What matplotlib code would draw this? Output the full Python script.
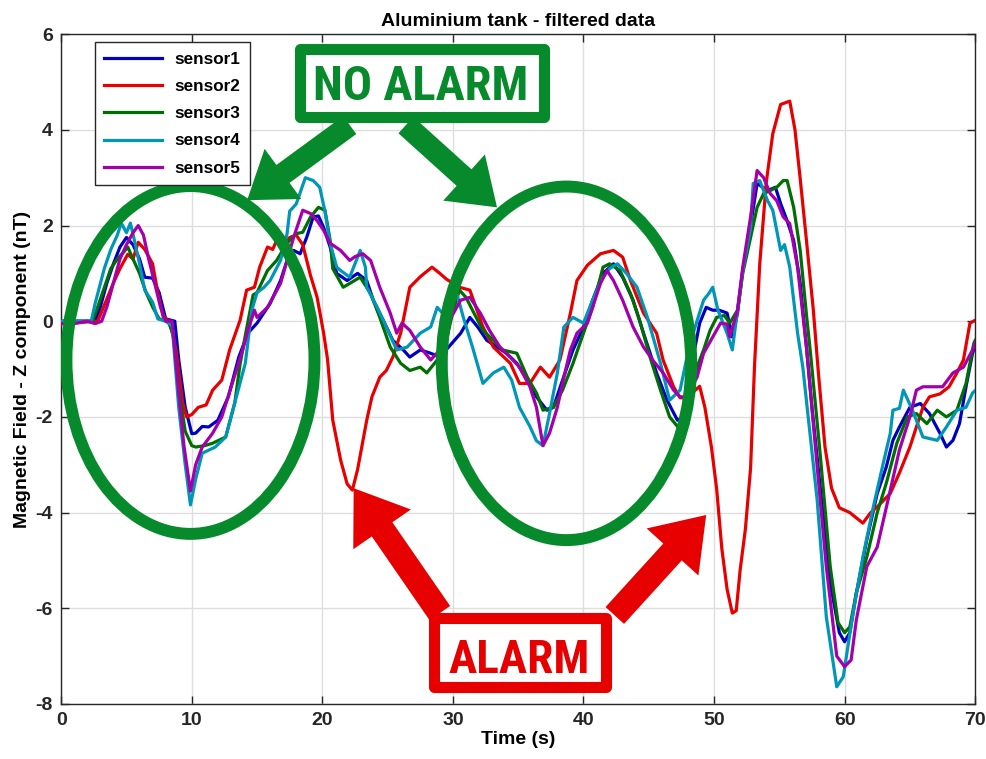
import matplotlib
matplotlib.use("Agg")
import matplotlib.pyplot as plt
import numpy as np
from matplotlib import font_manager
from matplotlib.patches import Ellipse, Rectangle

plt.rcParams['font.family'] = ['Liberation Sans', 'DejaVu Sans']
plt.rcParams['axes.unicode_minus'] = False

# sensor readings, (time s, field nT)
sensor1 = [(0, 0), (2.6, 0), (3.0, 0.3), (3.5, 0.8), (4.0, 1.2), (4.5, 1.55), (5.0, 1.75),
           (5.5, 1.6), (6.0, 1.3), (6.4, 0.92), (7.0, 0.9), (7.5, 0.6), (8.0, 0.05), (8.7, 0),
           (9.0, -0.8), (9.5, -1.8), (10.0, -2.35), (10.3, -2.34), (10.8, -2.2), (11.3, -2.21),
           (12.0, -2.07), (12.8, -1.58), (13.6, -0.75), (14.3, -0.25), (15.0, -0.04), (16.0, 0.37),
           (16.8, 0.85), (17.3, 1.27), (17.8, 1.48), (18.3, 1.41), (18.8, 1.75), (19.3, 2.18),
           (19.7, 2.2), (20.1, 1.96), (20.6, 1.55), (21.1, 1.0), (21.9, 0.85), (22.7, 1.0),
           (23.4, 0.85), (23.9, 0.44), (24.7, 0.0), (25.4, -0.4), (26.2, -0.6), (26.7, -0.75),
           (27.5, -0.6), (28.3, -0.67), (29.0, -0.75), (29.8, -0.5), (30.6, -0.25), (31.3, 0.08),
           (31.9, -0.12), (32.6, -0.4), (33.4, -0.54), (34.1, -0.67), (34.9, -0.88), (35.7, -1.23),
           (36.4, -1.58), (37.2, -1.86), (37.7, -1.8), (38.4, -1.23), (39.2, -0.6), (40.0, -0.12),
           (40.7, 0.44), (41.5, 1.0), (42.3, 1.2), (43.0, 0.92), (43.8, 0.44), (44.6, -0.25),
           (45.6, -1.08), (46.4, -1.65), (47.2, -2.07), (47.6, -2.0), (48.4, -0.75), (48.9, -0.04),
           (49.4, 0.29), (49.9, 0.23), (50.4, 0.23), (51.0, 0.17), (51.4, -0.33), (51.8, 0.17),
           (52.2, 1.06), (52.8, 2.0), (53.3, 2.88), (54.1, 2.73), (54.7, 2.8), (55.1, 2.46),
           (55.6, 2.1), (56.1, 1.69), (56.6, 0.79), (57.1, -0.6), (57.5, -1.8), (58.1, -3.38),
           (58.9, -5.47), (59.6, -6.51), (60.0, -6.7), (60.4, -6.51), (60.9, -5.68), (61.7, -4.57),
           (62.5, -3.6), (63.2, -3.04), (63.7, -2.49), (64.2, -2.21), (65.0, -1.8), (65.8, -1.72),
           (66.5, -1.93), (67.3, -2.34), (67.8, -2.63), (68.3, -2.49), (68.8, -2.14), (69.3, -1.37),
           (69.8, -0.67), (70, -0.5)]

sensor2 = [(0, -0.05), (2.8, 0), (3.4, 0.4), (4.0, 0.8), (4.5, 1.1), (5.1, 1.4), (5.5, 1.3),
           (5.9, 1.65), (6.4, 1.5), (7.0, 1.2), (7.4, 0.6), (7.8, 0.1), (8.3, 0), (8.8, -0.6),
           (9.3, -1.7), (9.6, -2.0), (10.0, -1.95), (10.5, -1.8), (11.1, -1.75), (11.6, -1.44),
           (12.3, -1.23), (12.9, -0.6), (13.7, 0.02), (14.2, 0.65), (14.8, 0.71), (15.2, 1.13),
           (15.8, 1.55), (16.2, 1.5), (16.5, 1.69), (17.1, 1.63), (17.5, 1.75), (18.0, 1.8),
           (18.5, 1.6), (19.1, 0.95), (19.6, 0.5), (20.1, -0.25), (20.4, -0.8), (20.8, -2.07),
           (21.4, -2.9), (21.9, -3.4), (22.3, -3.53), (22.7, -3.1), (23.4, -2.07), (23.8, -1.58),
           (24.4, -1.17), (24.9, -1.03), (25.4, -0.75), (26.0, -0.25), (26.7, 0.71), (27.5, 0.93),
           (28.4, 1.13), (29.0, 1.0), (29.5, 0.88), (30.5, 0.71), (31.3, 0.65), (32.3, -0.12),
           (33.1, -0.54), (34.4, -0.88), (35.1, -1.3), (35.9, -1.3), (36.7, -0.96), (37.4, -1.17),
           (38.2, -0.81), (39.0, 0.17), (39.5, 0.85), (40.3, 1.17), (41.3, 1.41), (42.3, 1.48),
           (43.0, 1.34), (43.6, 0.85), (44.6, 0.17), (45.6, -0.25), (46.1, -0.81), (46.9, -1.37),
           (47.4, -1.6), (47.9, -1.6), (48.9, -1.36), (49.3, -1.8), (49.8, -2.63), (50.2, -3.5),
           (50.6, -4.76), (51.0, -5.6), (51.4, -6.1), (51.7, -6.05), (52.0, -5.2), (52.4, -4.35),
           (52.8, -3.07), (53.1, -0.94), (53.5, 1.19), (54.0, 2.9), (54.5, 3.92), (55.1, 4.53),
           (55.8, 4.6), (56.2, 4.0), (56.6, 2.98), (57.1, 1.63), (57.6, 0.25), (58.0, -1.1),
           (58.5, -2.63), (59.0, -3.49), (59.6, -3.9), (60.4, -4.0), (61.4, -4.22), (62.0, -4.0),
           (62.5, -3.88), (63.5, -3.6), (64.2, -3.17), (65.0, -2.63), (65.5, -2.21), (66.0, -1.8),
           (66.5, -1.58), (67.3, -1.52), (68.0, -1.37), (68.6, -1.08), (69.1, -0.81), (69.6, -0.04),
           (70, 0.02)]

sensor3 = [(0, 0), (2.4, 0), (2.8, 0.3), (3.3, 0.7), (3.8, 1.1), (4.3, 1.3), (4.8, 1.45),
           (5.1, 1.55), (5.5, 1.3), (6.0, 1.0), (6.5, 0.6), (7.0, 0.3), (7.5, 0.05), (8.2, 0),
           (8.6, -0.3), (9.0, -1.4), (9.5, -2.3), (10.0, -2.6), (10.3, -2.63), (11.0, -2.6),
           (11.6, -2.55), (12.6, -2.42), (13.3, -1.7), (13.7, -0.9), (14.1, -0.3), (14.7, 0.55),
           (15.0, 0.6), (15.8, 1.06), (16.5, 1.27), (17.3, 1.63), (18.0, 1.83), (18.5, 1.86),
           (19.1, 2.18), (19.7, 2.38), (20.2, 2.32), (20.6, 1.69), (20.8, 1.1), (21.6, 0.71),
           (22.1, 0.79), (22.9, 0.92), (23.7, 0.58), (24.4, 0.08), (25.2, -0.54), (26.0, -0.88),
           (26.7, -1.03), (27.5, -0.96), (28.0, -1.08), (28.8, -0.81), (29.5, -0.4), (30.0, 0.2),
           (30.5, 0.65), (31.0, 0.5), (31.5, 0.23), (32.3, -0.19), (33.1, -0.4), (33.8, -0.6),
           (34.9, -0.67), (35.7, -1.17), (36.4, -1.5), (36.9, -1.86), (37.7, -1.8), (38.4, -1.44),
           (39.2, -0.88), (40.0, -0.25), (40.7, 0.29), (41.5, 1.13), (42.0, 1.2), (42.8, 1.06),
           (43.6, 0.58), (44.3, 0.02), (45.1, -0.75), (45.9, -1.44), (46.6, -2.0), (47.2, -2.2),
           (47.7, -2.2), (48.0, -1.65), (48.7, -0.96), (49.2, -0.6), (49.7, -0.19), (50.2, 0.08),
           (50.8, 0.12), (51.2, -0.04), (51.8, 0.23), (52.2, 1.0), (52.8, 1.75), (53.3, 2.38),
           (53.8, 2.67), (54.3, 2.73), (54.8, 2.8), (55.3, 2.94), (55.6, 2.94), (56.1, 2.38),
           (56.6, 1.48), (57.1, 0.08), (57.4, -0.7), (58.1, -2.69), (58.9, -5.13), (59.5, -6.3),
           (60.0, -6.51), (60.4, -6.39), (60.9, -5.68), (61.7, -4.93), (62.5, -4.0), (63.2, -3.38),
           (64.0, -2.55), (64.8, -2.0), (65.5, -1.93), (66.3, -2.14), (67.1, -1.86), (67.8, -2.0),
           (68.6, -1.86), (69.3, -1.3), (69.9, -0.46), (70, -0.4)]

sensor4 = [(0, 0), (2.3, 0), (2.6, 0.37), (3.3, 1.1), (3.8, 1.5), (4.3, 1.8), (4.6, 2.05),
           (5.0, 1.85), (5.3, 2.05), (5.6, 1.7), (6.0, 1.2), (6.4, 0.65), (7.0, 0.4), (7.4, 0.05),
           (8.0, 0), (8.5, -0.1), (9.0, -1.8), (9.5, -3.0), (9.9, -3.84), (10.3, -3.3), (10.8, -2.76),
           (11.8, -2.63), (12.6, -2.42), (13.3, -1.7), (14.1, -0.88), (14.6, 0.23), (15.0, 0.6),
           (15.5, 0.7), (16.0, 0.85), (16.8, 1.27), (17.3, 1.83), (17.5, 2.3), (18.0, 2.45),
           (18.7, 3.0), (19.3, 2.94), (19.8, 2.8), (20.2, 2.3), (20.6, 1.63), (21.1, 1.13),
           (21.4, 1.06), (22.1, 0.92), (22.9, 1.48), (23.3, 1.13), (23.4, 0.71), (24.2, 0.29),
           (24.9, -0.12), (25.7, -0.6), (26.5, -0.54), (27.5, -0.25), (28.3, -0.12), (28.8, 0.29),
           (29.5, 0.08), (30.3, 0.58), (30.8, 0.08), (31.5, -0.54), (32.3, -1.3), (33.1, -1.08),
           (33.9, -0.96), (34.5, -1.23), (35.1, -1.8), (35.9, -2.2), (36.4, -2.5), (36.9, -2.6),
           (37.4, -1.93), (38.0, -1.08), (38.5, -0.12), (39.2, 0.08), (40.0, -0.04), (40.7, 0.44),
           (41.5, 0.92), (42.0, 1.1), (42.6, 1.2), (43.3, 1.0), (44.1, 0.71), (44.9, 0.08),
           (45.9, -0.88), (46.6, -1.65), (47.4, -1.44), (48.2, -0.4), (48.4, -0.25), (49.2, 0.44),
           (49.6, 0.58), (49.9, 0.71), (50.3, 0.23), (51.0, -0.25), (51.4, -0.6), (51.8, 0.23),
           (52.2, 1.06), (52.8, 1.96), (53.0, 2.88), (53.5, 2.94), (54.1, 2.52), (54.5, 2.32),
           (55.1, 1.48), (55.4, 1.6), (55.8, 1.13), (56.4, -0.25), (56.8, -0.96), (57.9, -3.74),
           (58.6, -6.18), (59.4, -7.64), (59.9, -7.43), (60.6, -6.18), (61.4, -4.93), (62.2, -3.88),
           (62.9, -3.04), (63.5, -2.34), (63.7, -1.86), (64.2, -1.82), (64.5, -1.44), (65.2, -1.86),
           (66.0, -2.42), (67.1, -2.49), (67.8, -2.21), (68.6, -1.86), (69.3, -1.8), (69.8, -1.5),
           (70, -1.45)]

sensor5 = [(0, -0.05), (1.0, -0.05), (2.0, 0), (2.6, -0.05), (3.1, 0), (3.5, 0.3), (4.0, 0.8),
           (4.5, 1.3), (5.0, 1.6), (5.5, 1.85), (5.9, 2.0), (6.3, 1.8), (6.7, 1.3), (7.2, 0.75),
           (7.6, 0.3), (8.0, 0), (8.5, 0), (9.0, -1.5), (9.4, -2.6), (9.9, -3.55), (10.3, -3.0),
           (10.8, -2.63), (11.6, -2.34), (12.3, -2.0), (13.1, -1.3), (13.9, -0.6), (14.3, -0.19),
           (14.8, 0.23), (15.0, 0.08), (15.8, 0.29), (16.8, 0.79), (17.3, 1.27), (17.8, 1.75),
           (18.5, 2.32), (19.1, 2.25), (19.6, 2.1), (20.1, 1.9), (20.6, 1.63), (21.4, 1.48),
           (22.1, 1.27), (22.5, 1.35), (23.1, 1.41), (23.7, 1.27), (24.4, 0.71), (25.2, 0.17),
           (25.7, -0.25), (26.1, -0.04), (26.7, -0.19), (27.5, -0.54), (28.3, -0.81), (29.0, -0.6),
           (29.8, 0.05), (30.6, 0.44), (31.3, 0.5), (32.1, 0.17), (32.8, -0.19), (33.6, -0.54),
           (34.4, -0.75), (35.1, -0.96), (35.9, -1.37), (36.4, -1.8), (36.9, -2.6), (37.4, -2.34),
           (38.0, -1.8), (38.5, -1.17), (39.0, -0.6), (39.5, -0.25), (40.3, -0.04), (40.7, 0.29),
           (41.3, 0.79), (41.8, 1.06), (42.3, 0.85), (43.0, 0.44), (43.8, -0.12), (44.6, -0.54),
           (45.3, -0.81), (46.1, -1.08), (46.9, -1.44), (47.4, -1.58), (47.9, -1.58), (48.7, -1.17),
           (49.2, -0.67), (49.9, -0.33), (50.5, -0.04), (51.0, -0.06), (51.2, -0.33), (51.8, 0.23),
           (52.2, 1.13), (52.8, 2.18), (53.3, 3.15), (53.8, 3.0), (54.3, 2.67), (54.8, 2.52),
           (55.3, 2.18), (55.8, 2.04), (56.4, 1.13), (57.1, -0.6), (57.9, -3.04), (58.6, -5.13),
           (59.4, -7.0), (60.0, -7.22), (60.5, -7.08), (60.9, -6.24), (61.7, -5.13), (62.5, -4.72),
           (63.5, -3.53), (64.2, -2.69), (65.0, -2.0), (65.5, -1.44), (66.0, -1.37), (67.0, -1.37),
           (67.5, -1.37), (68.3, -1.08), (69.1, -0.96), (69.8, -0.6), (70, -0.45)]

labels = ["sensor1", "sensor2", "sensor3", "sensor4", "sensor5"]
colors = ["#0000c0", "#e80000", "#006e00", "#0096b8", "#a300ab"]

GREEN = "#078a2b"
RED = "#e60000"

# a narrow bold face for the callouts, if one is around
names = {f.name for f in font_manager.fontManager.ttflist}
anno_font = "Roboto"
for cand in ["Liberation Sans Narrow", "Roboto Condensed", "Open Sans Condensed"]:
    if cand in names:
        anno_font = cand
        break

fig = plt.figure(figsize=(9.87, 7.59), dpi=100)
ax = fig.add_subplot(111)
fig.subplots_adjust(left=0.062, right=0.988, bottom=0.0725, top=0.955)

for data, lab, col in zip([sensor1, sensor2, sensor3, sensor4, sensor5], labels, colors):
    t, v = np.array(data).T
    ax.plot(t, v, color=col, lw=2.3, label=lab, zorder=3)

ax.set_xlim(0, 70)
ax.set_ylim(-8, 6)
ax.set_xticks(np.arange(0, 71, 10))
ax.set_yticks(np.arange(-8, 7, 2))
ax.grid(True, color="#dedede", lw=1)
ax.set_axisbelow(True)
ax.tick_params(direction="in", top=True, right=True, length=6, width=1,
               labelsize=14, pad=6, colors="#262626")
for lbl in ax.get_xticklabels() + ax.get_yticklabels():
    lbl.set_fontweight("bold")
for sp in ax.spines.values():
    sp.set_color("#262626")
    sp.set_linewidth(1)

ax.set_title("Aluminium tank - filtered data", fontsize=14, fontweight="bold", pad=6)
ax.set_xlabel("Time (s)", fontsize=14, fontweight="bold", labelpad=1)
ax.set_ylabel("Magnetic Field - Z component (nT)", fontsize=14, fontweight="bold", labelpad=3)

leg = ax.legend(loc="upper left", bbox_to_anchor=(0.037, 0.988), borderaxespad=0,
                fancybox=False, edgecolor="#262626", framealpha=1, handlelength=3.4,
                labelspacing=0.72, borderpad=0.55, handletextpad=0.7,
                prop={"weight": "bold", "size": 12.3})
leg.get_frame().set_linewidth(1)
leg.set_zorder(10)

# annotation overlay
ax.add_patch(Ellipse((9.9, -0.81), 19.0, 7.27, fill=False, ec=GREEN, lw=8.6, zorder=5))
ax.add_patch(Ellipse((38.7, -0.88), 19.1, 7.39, fill=False, ec=GREEN, lw=8.6, zorder=5))

for tail, tip, col, scale in [((22.1, 4.1), (14.24, 2.53), GREEN, 16),
                              ((26.4, 4.1), (33.38, 2.38), GREEN, 16),
                              ((29.0, -6.1), (22.4, -3.49), RED, 18),
                              ((42.4, -6.15), (49.4, -4.05), RED, 18)]:
    ax.annotate("", xy=tip, xytext=tail,
                arrowprops=dict(arrowstyle="simple,head_width=2.8,head_length=2.0,tail_width=1.0",
                                mutation_scale=scale, color=col, shrinkA=0, shrinkB=0, lw=0),
                zorder=6)

ax.add_patch(Rectangle((18.3, 4.26), 18.68, 1.44, fc="white", ec=GREEN, lw=8,
                       joinstyle="round", zorder=7))
ax.text(27.53, 4.63, "NO ALARM", color=GREEN, fontsize=35, fontweight="bold",
        family=anno_font, ha="center", va="baseline", zorder=8)

ax.add_patch(Rectangle((28.56, -7.64), 13.17, 1.44, fc="white", ec=RED, lw=8,
                       joinstyle="round", zorder=7))
ax.text(35.07, -7.36, "ALARM", color=RED, fontsize=34, fontweight="bold",
        family=anno_font, ha="center", va="baseline", zorder=8)

fig.savefig("out.png", dpi=100)
